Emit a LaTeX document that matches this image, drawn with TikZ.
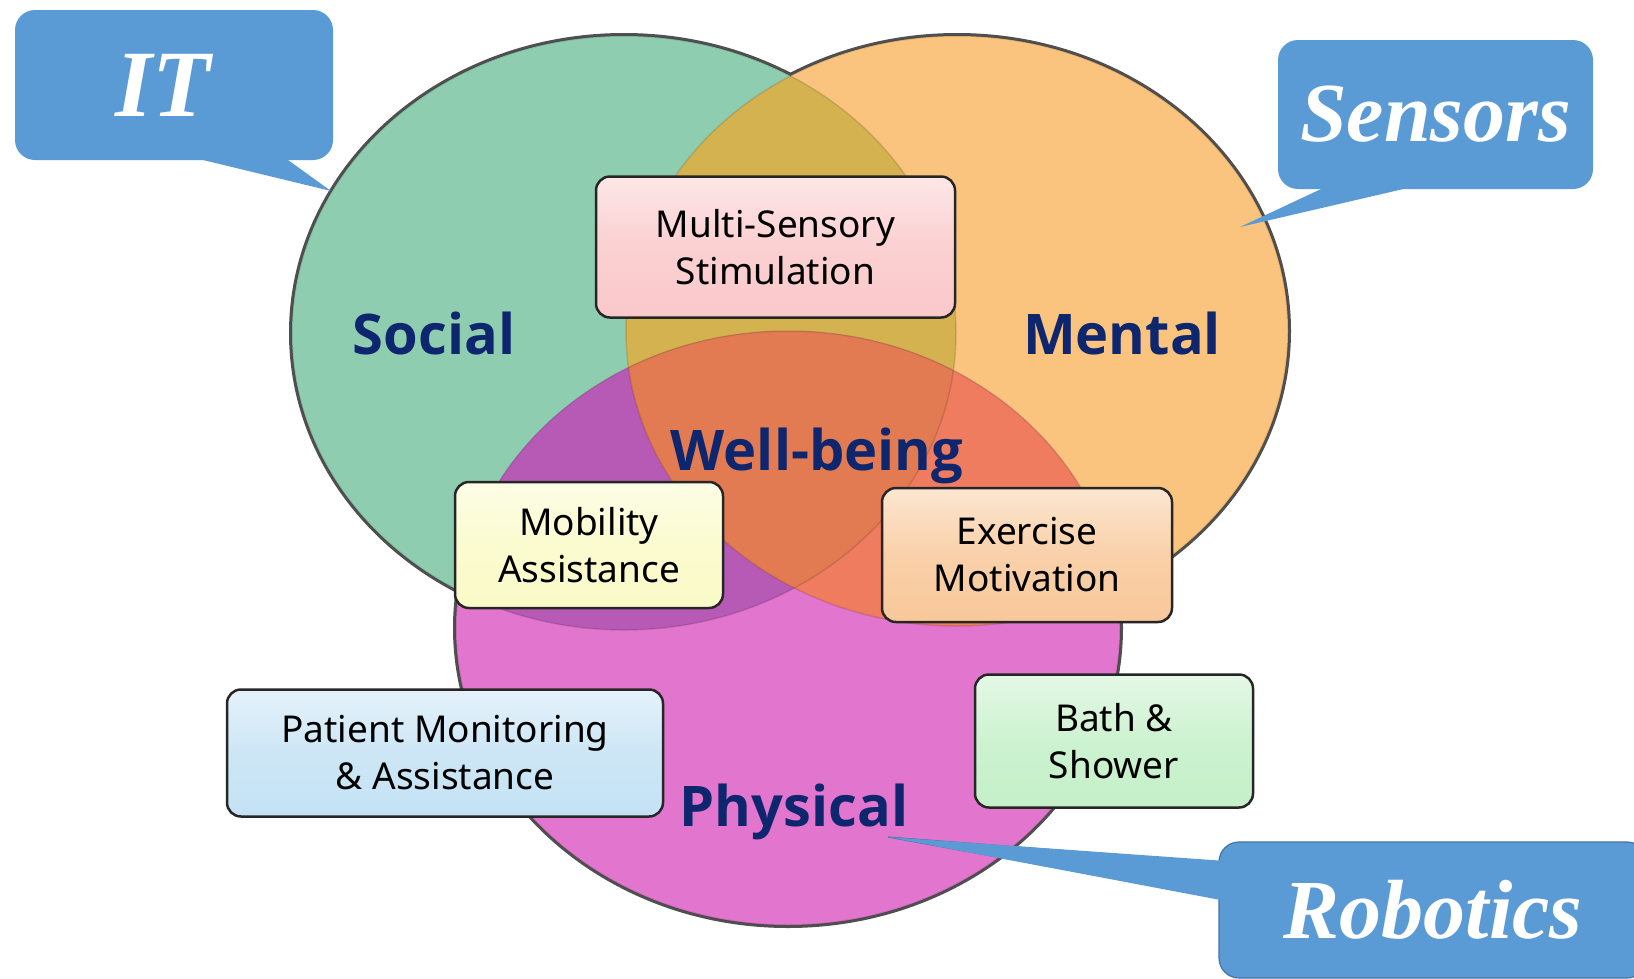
\documentclass[tikz,border=0pt]{standalone}
\usepackage{fontspec}
\setmainfont{Liberation Serif}
\setsansfont{Noto Sans}
\newfontfamily\labelfam{Open Sans}
\usetikzlibrary{calc}
\definecolor{cgreen}{RGB}{143,205,176}
\definecolor{corange}{RGB}{250,196,126}
\definecolor{cmag}{RGB}{226,118,206}
\definecolor{cgo}{RGB}{212,178,80}
\definecolor{cgm}{RGB}{182,90,182}
\definecolor{com}{RGB}{240,124,96}
\definecolor{call}{RGB}{226,122,82}
\definecolor{navy}{RGB}{14,38,110}
\definecolor{calloutcol}{RGB}{91,155,213}
\definecolor{circline}{RGB}{80,80,80}
\definecolor{bpink}{RGB}{250,200,202}
\definecolor{byellow}{RGB}{250,250,200}
\definecolor{bpeach}{RGB}{248,200,154}
\definecolor{bblue}{RGB}{196,226,244}
\definecolor{bgreen}{RGB}{196,240,200}
\newcommand\boxfont{\fontsize{37}{47}\selectfont\sffamily}
\newcommand\lblfont{\fontsize{56}{56}\selectfont\labelfam\bfseries}
\newcommand\callfont{\fontsize{84}{84}\selectfont\rmfamily\bfseries\itshape}
\tikzset{
  infobox/.style={draw=black!85, line width=2.5pt, rounded corners=14pt, align=center,
    font=\boxfont, inner sep=0pt, top color=white!55!#1, bottom color=#1, middle color=#1!85!white},
  biglabel/.style={font=\lblfont, text=navy, anchor=base, inner sep=0pt},
  callout/.style={fill=calloutcol, rounded corners=20pt, text=white, font=\callfont, inner sep=0pt},
}
\begin{document}
\begin{tikzpicture}[x=1pt,y=-1pt]
\useasboundingbox (0,0) rectangle (1634,978);
\fill[white] (0,0) rectangle (1634,978);
\def\GE{(624,333) ellipse [x radius=332pt, y radius=297pt]}
\def\OE{(957,331) ellipse [x radius=331pt, y radius=295pt]}
\def\ME{(788,628) ellipse [x radius=332pt, y radius=297pt]}
% outer outlines
\draw[circline, line width=6pt] \GE;
\draw[circline, line width=6pt] \OE;
\draw[circline, line width=6pt] \ME;
% fills
\fill[cgreen] \GE;
\fill[corange] \OE;
\fill[cmag] \ME;
\begin{scope}\clip \GE; \fill[cgo] \OE; \fill[cgm] \ME; \end{scope}
\begin{scope}\clip \OE; \fill[com] \ME; \end{scope}
\begin{scope}\clip \GE; \clip \OE; \fill[call] \ME; \end{scope}
% faint inner lines
\draw[black, opacity=0.12, line width=1.5pt] \GE;
\draw[black, opacity=0.12, line width=1.5pt] \OE;
\draw[black, opacity=0.12, line width=1.5pt] \ME;

% callouts
\node[callout, font=\fontsize{95}{95}\selectfont\rmfamily\bfseries\itshape, minimum width=318pt, minimum height=150pt] (IT) at (174,85) {\hspace*{-22pt}IT};
\coordinate (ITtip) at (331,191);
\fill[calloutcol] ($(IT.south west)+(185,-1)$) -- (ITtip) -- ($(IT.south west)+(272,-1)$) -- cycle;

\node[callout, minimum width=315pt, minimum height=149pt] (SE) at (1435.5,114.5) {Sensors};
\coordinate (SEtip) at (1240,227);
\fill[calloutcol] ($(SE.south west)+(45,-1)$) -- (SEtip) -- ($(SE.south west)+(129,-1)$) -- cycle;

\node[callout, draw=calloutcol!75!black, line width=1.2pt, minimum width=428pt, minimum height=136pt] (RO) at (1433,910) {Robotics};
\coordinate (ROtip) at (888,837);
\filldraw[calloutcol, draw=calloutcol!75!black, line width=1.2pt] ($(RO.north west)+(0,21)$) -- (ROtip) -- ($(RO.north west)+(0,56)$);
\fill[calloutcol] ($(RO.north west)+(-1,19)$) -- (ROtip) -- ($(RO.north west)+(-1,58)$) -- ($(RO.north west)+(3,58)$) -- ($(RO.north west)+(3,19)$) -- cycle;

% boxes
\node[infobox=bpink, minimum width=359pt, minimum height=141pt] (multi) at (775.5,247) {Multi-Sensory\\Stimulation};
\node[infobox=byellow, minimum width=268pt, minimum height=126pt] (mob) at (589,545) {Mobility\\Assistance};
\node[infobox=bpeach, minimum width=290pt, minimum height=134pt] (exer) at (1027,555) {Exercise\\Motivation};
\node[infobox=bblue, minimum width=436pt, minimum height=127pt] (pat) at (445,753) {Patient Monitoring\\\& Assistance};
\node[infobox=bgreen, minimum width=278pt, minimum height=133pt] (bath) at (1114,741) {Bath \&\\Shower};

% labels
\node[biglabel] (social) at (434,354) {Social};
\node[biglabel] (mental) at (1122,354) {Mental};
\node[biglabel] (well) at (817,470) {Well-being};
\node[biglabel] (phys) at (794,826) {Physical};
\end{tikzpicture}
\end{document}
